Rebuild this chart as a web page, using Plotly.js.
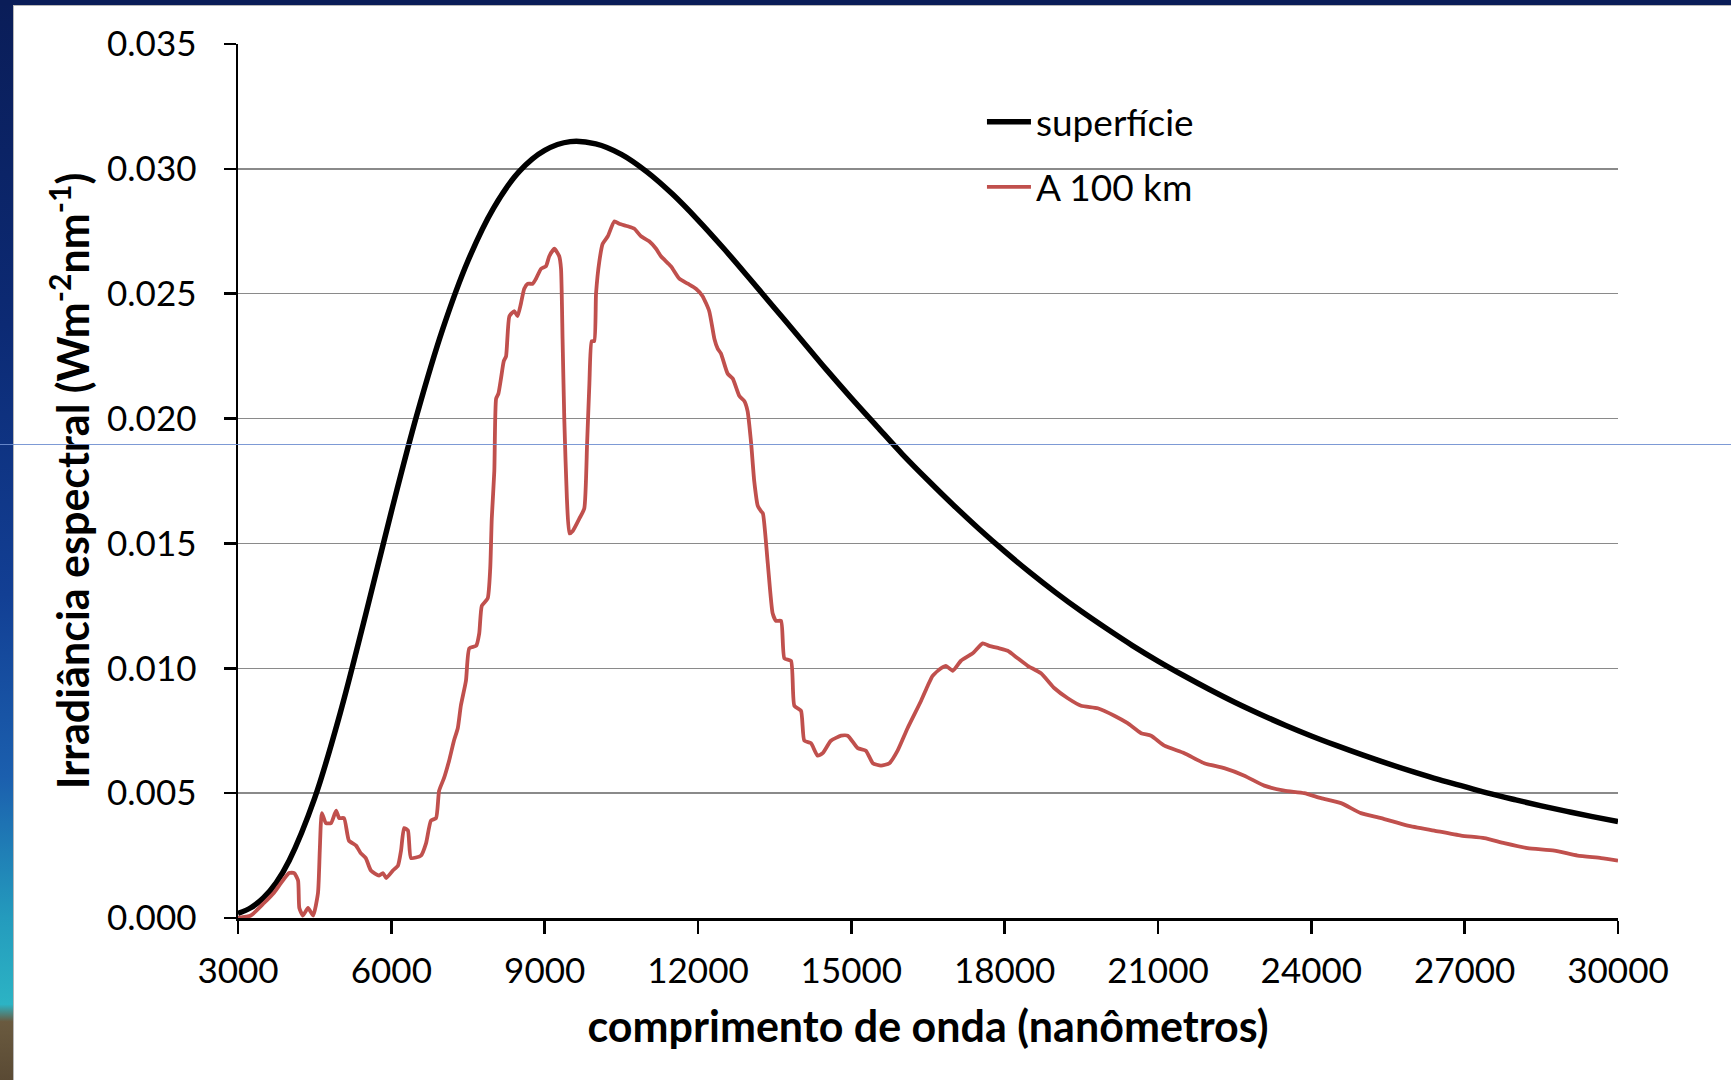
<!DOCTYPE html>
<html>
<head>
<meta charset="utf-8">
<script src="https://cdn.plot.ly/plotly-3.0.1.min.js"></script>
<style>
  html, body { margin: 0; padding: 0; width: 1731px; height: 1080px; overflow: hidden; }
  body {
    background: linear-gradient(to bottom, #0a1d58 0%, #0c2a74 30%, #123f94 55%, #1b5fae 72%, #249bbd 85%, #2cb3c4 93%, #6a5a3f 94.6%, #5a4a34 100%);
    position: relative;
  }
  #topbar { position: absolute; left: 0; top: 0; width: 1731px; height: 5px; background: #0a1d58; }
  #frame {
    position: absolute; left: 13px; top: 5px; width: 1718px; height: 1075px;
    background: #ffffff; border-left: 1px solid #b8b8b8; border-top: 1px solid #b8b8b8; box-sizing: border-box;
  }
  #chart { position: absolute; left: 1px; top: 1px; width: 1717px; height: 1074px; }
  #blueline { position: absolute; left: 0; top: 444px; width: 1731px; height: 1px; background: #6f8fd0; z-index: 10; opacity: 0.9; }
</style>
</head>
<body>
<div id="topbar"></div>
<div id="frame"><div id="chart"></div></div>
<div id="blueline"></div>
<script>
// ---- Data ----
const surfaceWavelength = [3000, 3250, 3500, 3750, 4000, 4500, 5000, 5500, 6000, 6500, 7000, 7500, 8000, 8500, 9000, 9500,
  10000, 10500, 11000, 11500, 12000, 12500, 13000, 13500, 14000, 14500, 15000, 15500, 16000, 16500, 17000, 17500,
  18000, 18500, 19000, 19500, 20000, 20500, 21000, 21500, 22000, 22500, 23000, 23500, 24000, 24500, 25000, 25500,
  26000, 26500, 27000, 27500, 28000, 28500, 29000, 29500, 30000];
const surfaceIrradiance = [0.00018, 0.00041, 0.00081, 0.00142, 0.00229, 0.00480, 0.00821, 0.01217, 0.01627, 0.02015, 0.02355, 0.02632, 0.02843, 0.02989, 0.03074, 0.03109,
  0.03100, 0.03058, 0.02988, 0.02899, 0.02795, 0.02682, 0.02563, 0.02442, 0.02321, 0.02199, 0.02082, 0.01969, 0.01857, 0.01753, 0.01653, 0.01558,
  0.01468, 0.01383, 0.01303, 0.01228, 0.01158, 0.01091, 0.01029, 0.00971, 0.00916, 0.00864, 0.00816, 0.00771, 0.00729, 0.00690, 0.00653, 0.00618,
  0.00585, 0.00554, 0.00526, 0.00498, 0.00473, 0.00449, 0.00427, 0.00406, 0.00386];

const km100Wavelength = [3000, 3250, 3510, 3700, 3840, 4000, 4100, 4175, 4200, 4270, 4370, 4470, 4565, 4600, 4640, 4720, 4820,
  4920, 4980, 5075, 5170, 5310, 5400, 5500, 5600, 5760, 5835, 5900, 6030, 6130, 6190, 6250, 6325, 6385, 6580, 6680,
  6775, 6875, 6935, 7030, 7130, 7225, 7300, 7360, 7460, 7525, 7660, 7720, 7770, 7885, 7935, 7965, 8015, 8050, 8095,
  8145, 8200, 8245, 8310, 8405, 8470, 8535, 8600, 8670, 8765, 8830, 8930, 9025, 9090, 9190, 9285, 9320, 9350, 9385,
  9435, 9485, 9550, 9680, 9775, 9830, 9875, 9920, 9970, 10005, 10070, 10135, 10235, 10365, 10460, 10625, 10755, 10885,
  11045, 11180, 11275, 11470, 11635, 11800, 11960, 12090, 12220, 12320, 12385, 12450, 12580, 12680, 12810, 12905, 12970,
  13040, 13100, 13170, 13230, 13270, 13365, 13460, 13525, 13625, 13690, 13820, 13885, 14015, 14080, 14210, 14340, 14440,
  14600, 14800, 14930, 15125, 15285, 15420, 15580, 15745, 15905, 16100, 16365, 16495, 16590, 16755, 16850, 16985, 17145,
  17375, 17570, 17700, 17895, 18060, 18255, 18450, 18710, 18975, 19235, 19495, 19820, 20145, 20405, 20670, 20865, 21125,
  21515, 21905, 22295, 22690, 23080, 23470, 23860, 24190, 24580, 24970, 25365, 25885, 26405, 26930, 27385, 27775, 28230,
  28755, 29210, 29670, 30000];
const km100Irradiance = [0.0000, 0.0001, 0.0006, 0.0010, 0.0014, 0.0018, 0.0018, 0.0015, 0.0004, 0.0001, 0.0004, 0.0001, 0.0010, 0.0027, 0.0042, 0.0038, 0.0038,
  0.0043, 0.0040, 0.0040, 0.0031, 0.0029, 0.0026, 0.0024, 0.0019, 0.0017, 0.0018, 0.0016, 0.0019, 0.0021, 0.0027, 0.0036, 0.0035, 0.0024, 0.0025, 0.0030,
  0.0039, 0.0040, 0.0051, 0.0056, 0.0063, 0.0071, 0.0076, 0.0085, 0.0095, 0.0108, 0.0109, 0.0114, 0.0125, 0.0128, 0.0140, 0.0160, 0.0179, 0.0208, 0.0210,
  0.0216, 0.0223, 0.0225, 0.0241, 0.0243, 0.0241, 0.0246, 0.0252, 0.0254, 0.0254, 0.0256, 0.0260, 0.0261, 0.0265, 0.0268, 0.0265, 0.0260, 0.0232, 0.0199,
  0.0168, 0.0154, 0.0155, 0.0160, 0.0164, 0.0190, 0.0214, 0.0231, 0.0231, 0.0250, 0.0263, 0.0270, 0.0273, 0.0279, 0.0278, 0.0277, 0.0276, 0.0273,
  0.0271, 0.0268, 0.0265, 0.0261, 0.0256, 0.0254, 0.0252, 0.0249, 0.0243, 0.0232, 0.0228, 0.0226, 0.0218, 0.0216, 0.0209, 0.0207, 0.0203,
  0.0190, 0.0175, 0.0165, 0.0163, 0.0162, 0.0142, 0.0122, 0.0119, 0.0119, 0.0104, 0.0103, 0.0085, 0.0083, 0.0071, 0.0070, 0.0065, 0.0066,
  0.0071, 0.0073, 0.0073, 0.0068, 0.0067, 0.0062, 0.0061, 0.0062, 0.0067, 0.0076, 0.0087, 0.0093, 0.0097, 0.0100, 0.0101, 0.0099, 0.0103,
  0.0106, 0.0110, 0.0109, 0.0108, 0.0107, 0.0104, 0.0101, 0.0098, 0.0092, 0.0088, 0.0085, 0.0084, 0.0081, 0.0078, 0.0074, 0.0073, 0.0069,
  0.0066, 0.0062, 0.0060, 0.0057, 0.0053, 0.0051, 0.0050, 0.0048, 0.0046, 0.0042, 0.0040, 0.0037, 0.0035, 0.0033, 0.0032, 0.0030, 0.0028,
  0.0027, 0.0025, 0.0024, 0.0023];

const seriesNames = ["superfície", "A 100 km"];
const xTickValues = [3000, 6000, 9000, 12000, 15000, 18000, 21000, 24000, 27000, 30000];
const yTickValues = [0.000, 0.005, 0.010, 0.015, 0.020, 0.025, 0.030, 0.035];
const xTitle = "comprimento de onda (nanômetros)";
const yTitle = "Irradiância espectral (Wm<sup>-2</sup>nm<sup>-1</sup>)";

const FONT = "Lato, 'Open Sans', sans-serif";

const traces = [
  {
    x: surfaceWavelength, y: surfaceIrradiance, name: seriesNames[0], type: "scatter", mode: "lines",
    line: { color: "#000000", width: 5.5, shape: "spline", smoothing: 1 }, legendgroup: "a"
  },
  {
    x: km100Wavelength, y: km100Irradiance, name: seriesNames[1], type: "scatter", mode: "lines",
    line: { color: "#C0504D", width: 3.8, shape: "spline", smoothing: 0.5 }, legendgroup: "b"
  }
];

const layout = {
  width: 1717, height: 1074,
  margin: { l: 223, r: 114, t: 37, b: 163, pad: 0 },
  paper_bgcolor: "#ffffff", plot_bgcolor: "#ffffff",
  font: { family: FONT, color: "#000000", size: 34 },
  showlegend: true,
  legend: {
    x: 0.5391, xanchor: "left", y: 0.946, yanchor: "top",
    bgcolor: "rgba(0,0,0,0)", borderwidth: 0,
    font: { family: FONT, size: 37, color: "#000000" },
    traceorder: "grouped", tracegroupgap: 14, itemwidth: 44
  },
  xaxis: {
    range: [3000, 30000], tickvals: xTickValues, tickformat: "d",
    showgrid: false, zeroline: false,
    showline: true, linecolor: "#000000", linewidth: 2.5,
    ticks: "outside", ticklen: 13, tickwidth: 2.5, tickcolor: "#000000",
    tickfont: { family: FONT, size: 35, color: "#000000" }, ticklabelstandoff: 7,
    title: { text: xTitle, font: { family: FONT, size: 43, color: "#000000", weight: "bold" }, standoff: 24 },
    automargin: false, fixedrange: true
  },
  yaxis: {
    range: [0, 0.035], tickvals: yTickValues, tickformat: ".3f",
    showgrid: true, gridcolor: "#8a8a8a", gridwidth: 1.5, zeroline: false,
    showline: true, linecolor: "#000000", linewidth: 2.5,
    ticks: "outside", ticklen: 12, tickwidth: 2.5, tickcolor: "#000000",
    tickfont: { family: FONT, size: 35, color: "#000000" }, ticklabelstandoff: 20,
    title: { text: yTitle, font: { family: FONT, size: 43, color: "#000000", weight: "bold" }, standoff: 4 },
    automargin: false, fixedrange: true
  }
};

Plotly.newPlot("chart", traces, layout, { staticPlot: true, displayModeBar: false });
</script>
</body>
</html>
